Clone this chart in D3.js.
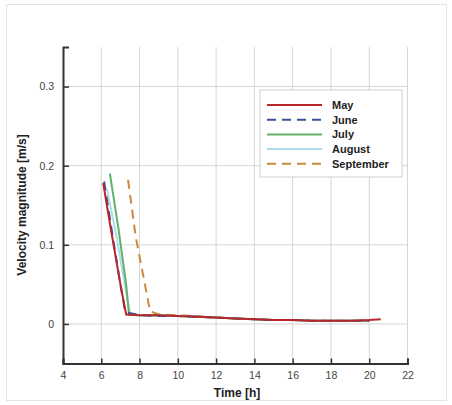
<!DOCTYPE html>
<html><head><meta charset="utf-8">
<script src="https://cdn.jsdelivr.net/npm/d3@7"></script>
<style>body{margin:0;background:#fff}svg{display:block}</style>
</head><body><div id="chart"></div>
<script>
const seriesNames = ["May","June","July","August","September"];
const seriesColors = ["#b8262c","#3d4f9a","#62b06a","#a9dcef","#c98a3e"];
const seriesDash = [null,"9,6",null,null,"9,6"];
const xTicks = [4,6,8,10,12,14,16,18,20,22];
const yTicks = [0,0.1,0.2,0.3];
const mayData = [[6.1,0.178],[6.5,0.12],[7.0,0.05],[7.3,0.012],[8,0.011],[9,0.011],[10,0.010],[11,0.009],[12,0.008],[13,0.007],[14,0.006],[15,0.005],[16,0.005],[17,0.004],[18,0.004],[19,0.004],[20,0.005],[20.6,0.006]];
const juneData = [[6.15,0.18],[6.6,0.11],[7.0,0.05],[7.25,0.015],[8,0.011],[9,0.010],[10,0.010],[11,0.009],[12,0.008],[13,0.007],[14,0.006],[15,0.005],[16,0.005],[17,0.004],[18,0.004],[19,0.004],[20,0.004]];
const julyData = [[6.45,0.19],[6.9,0.12],[7.3,0.05],[7.45,0.012],[8,0.011],[9,0.011],[10,0.010],[11,0.009],[12,0.008],[13,0.007],[14,0.006],[15,0.005],[16,0.005],[17,0.004],[18,0.004],[19,0.004],[20,0.004]];
const augustData = [[6.3,0.17],[6.8,0.11],[7.3,0.04],[7.5,0.013],[8,0.011],[9,0.010],[10,0.010],[11,0.009],[12,0.008],[13,0.007],[14,0.006],[15,0.005],[16,0.005],[17,0.004],[18,0.004],[19,0.004],[20,0.004]];
const septemberData = [[7.4,0.182],[7.8,0.11],[8.2,0.06],[8.55,0.016],[9,0.012],[10,0.011],[11,0.010],[12,0.008],[13,0.007],[14,0.006],[15,0.005],[16,0.005],[17,0.004],[18,0.004],[19,0.004],[20,0.004]];
const allData = [mayData,juneData,julyData,augustData,septemberData];

const W=452,H=405;
const svg=d3.select("#chart").append("svg").attr("width",W).attr("height",H);
svg.append("rect").attr("x",6.5).attr("y",4.5).attr("width",440).attr("height",396).attr("fill","none").attr("stroke","#e4e4e4");
const x=d3.scaleLinear().domain([4,22]).range([63,407.5]);
const y=d3.scaleLinear().domain([-0.05,0.35]).range([363.5,47]);
const font="Arial, 'Liberation Sans', sans-serif";

// grid
svg.append("g").selectAll("line").data(xTicks.slice(1)).join("line")
 .attr("x1",d=>x(d)).attr("x2",d=>x(d)).attr("y1",y(-0.05)).attr("y2",y(0.35))
 .attr("stroke","#d6d6d6").attr("stroke-width",1);
svg.append("g").selectAll("line").data(yTicks).join("line")
 .attr("x1",x(4)).attr("x2",x(22)).attr("y1",d=>y(d)).attr("y2",d=>y(d))
 .attr("stroke","#d6d6d6").attr("stroke-width",1);

// lines
const line=d3.line().x(d=>x(d[0])).y(d=>y(d[1]));
const order=[3,4,2,1,0];
order.forEach(i=>{
 svg.append("path").datum(allData[i]).attr("d",line).attr("fill","none")
  .attr("stroke",seriesColors[i]).attr("stroke-width",2)
  .attr("stroke-dasharray",seriesDash[i]);
});

// axes
const xAxis=d3.axisBottom(x).tickValues(xTicks).tickSize(-5).tickPadding(8).tickFormat(d3.format("d"));
const gx=svg.append("g").attr("transform",`translate(0,${y(-0.05)})`).call(xAxis);
const yAxis=d3.axisLeft(y).tickValues(yTicks).tickSize(-6).tickPadding(9).tickFormat(d=>d===0?"0":d3.format(".1f")(d));
const gy=svg.append("g").attr("transform",`translate(${x(4)},0)`).call(yAxis);
[gx,gy].forEach(g=>{
 g.select(".domain").attr("stroke","#333").attr("stroke-width",2);
 g.selectAll(".tick line").attr("stroke","#333").attr("stroke-width",1.5);
 g.selectAll(".tick text").attr("font-family",font).attr("font-size",10.5).attr("fill","#444");
});

svg.append("text").attr("x",237).attr("y",397).attr("text-anchor","middle")
 .attr("font-family",font).attr("font-weight","bold").attr("font-size",12).attr("fill","#222").text("Time [h]");
svg.append("text").attr("transform","translate(26,205) rotate(-90)").attr("text-anchor","middle")
 .attr("font-family",font).attr("font-weight","bold").attr("font-size",12).attr("fill","#222").text("Velocity magnitude [m/s]");

// legend
const lg=svg.append("g");
lg.append("rect").attr("x",260).attr("y",90).attr("width",142).attr("height",87).attr("fill","#fff").attr("stroke","#cfcfcf");
seriesNames.forEach((n,i)=>{
 const yy=105+i*14.7;
 lg.append("line").attr("x1",267).attr("x2",322).attr("y1",yy).attr("y2",yy)
  .attr("stroke",seriesColors[i]).attr("stroke-width",2).attr("stroke-dasharray",seriesDash[i]);
 lg.append("text").attr("x",332).attr("y",yy+4).attr("font-family",font).attr("font-weight","bold")
  .attr("font-size",11).attr("fill","#222").text(n);
});
</script></body></html>
